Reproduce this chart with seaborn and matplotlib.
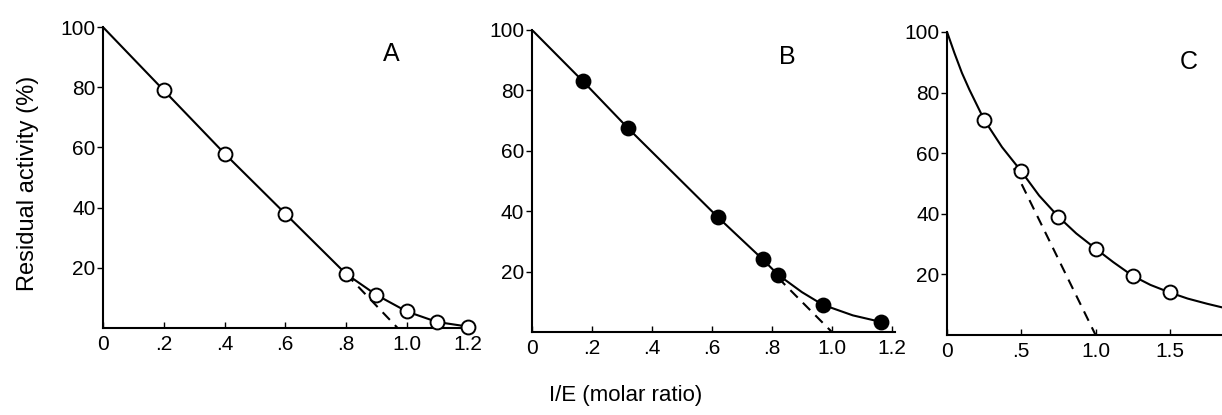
import numpy as np
import pandas as pd
import matplotlib
matplotlib.use('Agg')
import matplotlib.pyplot as plt
import seaborn as sns

# Panel A - open circles
a_x = [0.2, 0.4, 0.6, 0.8, 0.9, 1.0, 1.1, 1.2]
a_y = [79, 58, 38, 18, 11, 5.5, 2, 0.5]
a_line_x = [0, 0.2, 0.4, 0.6, 0.8, 0.9, 1.0, 1.1, 1.2]
a_line_y = [100, 79, 58, 38, 18, 11, 5.5, 2, 0.5]
a_dash_x = [0.8, 0.97]
a_dash_y = [18, 0]

# Panel B - filled circles
b_x = [0.17, 0.32, 0.62, 0.77, 0.82, 0.97, 1.165]
b_y = [83, 67.5, 38, 24, 19, 9, 3.3]
b_line_x = [0, 0.17, 0.32, 0.62, 0.77, 0.82, 0.9, 0.97, 1.07, 1.165]
b_line_y = [100, 83, 67.5, 38, 24, 19, 13.2, 9, 5.5, 3.3]
b_dash_x = [0.82, 1.0]
b_dash_y = [18, 0]

# Panel C - open circles, curved fit
c_x = [0.25, 0.5, 0.75, 1.0, 1.25, 1.5]
c_y = [71, 54, 39, 28.5, 19.5, 14]
c_curve_x = [0, 0.05, 0.1, 0.15, 0.25, 0.37, 0.5, 0.62, 0.75, 0.87, 1.0, 1.12, 1.25, 1.37, 1.5, 1.62, 1.75, 1.86]
c_curve_y = [100, 93, 86.5, 81, 71, 62, 54, 46, 39, 33.5, 28.5, 24, 19.5, 16.5, 14, 12, 10.3, 9]
c_dash_x = [0.45, 1.0]
c_dash_y = [55, 0]

sns.set_style('white')
plt.rcParams['font.family'] = ['Liberation Sans', 'DejaVu Sans']
plt.rcParams['text.color'] = 'black'
plt.rcParams['xtick.color'] = 'black'
plt.rcParams['ytick.color'] = 'black'

fig = plt.figure(figsize=(12.22, 4.15), dpi=100)
axA = fig.add_axes([0.0843, 0.2096, 0.302, 0.725])
axB = fig.add_axes([0.4353, 0.200, 0.297, 0.728])
axC = fig.add_axes([0.775, 0.193, 0.226, 0.730])

lw = 1.5


def draw_panel(ax, lx, ly, px, py, dx, dy, face, xlim, xticks, xlabels, letter, lpos):
    sns.lineplot(x=lx, y=ly, ax=ax, color='black', lw=lw, sort=False, estimator=None)
    sns.lineplot(x=dx, y=dy, ax=ax, color='black', lw=lw, estimator=None)
    ax.lines[-1].set_dashes([5, 3.5])
    ax.plot(px, py, 'o', ms=10, mfc=face, mec='black', mew=1.4, clip_on=False, zorder=5)
    ax.set_xlim(*xlim)
    ax.set_ylim(0, 100)
    ax.set_xticks(xticks)
    ax.set_xticklabels(xlabels)
    ax.set_yticks([20, 40, 60, 80, 100])
    ax.set_yticklabels(['20', '40', '60', '80', '100'])
    ax.tick_params(axis='x', bottom=True, direction='in', length=4, width=1, labelsize=15, pad=5)
    ax.tick_params(axis='y', left=True, direction='out', length=4, width=1, labelsize=15, pad=1.5)
    sns.despine(ax=ax)
    for s in ['left', 'bottom']:
        ax.spines[s].set_linewidth(1.5)
        ax.spines[s].set_color('black')
    ax.text(lpos[0], lpos[1], letter, fontsize=18, ha='center', va='center')


draw_panel(axA, a_line_x, a_line_y, a_x, a_y, a_dash_x, a_dash_y, 'white',
           (0, 1.215), [0, 0.2, 0.4, 0.6, 0.8, 1.0, 1.2],
           ['0', '.2', '.4', '.6', '.8', '1.0', '1.2'], 'A', (0.95, 91))
draw_panel(axB, b_line_x, b_line_y, b_x, b_y, b_dash_x, b_dash_y, 'black',
           (0, 1.21), [0, 0.2, 0.4, 0.6, 0.8, 1.0, 1.2],
           ['0', '.2', '.4', '.6', '.8', '1.0', '1.2'], 'B', (0.85, 91))
draw_panel(axC, c_curve_x, c_curve_y, c_x, c_y, c_dash_x, c_dash_y, 'white',
           (0, 1.86), [0, 0.5, 1.0, 1.5],
           ['0', '.5', '1.0', '1.5'], 'C', (1.63, 90))

for ax in [axA, axB, axC]:
    ax.set_xlabel('')
    ax.set_ylabel('')

fig.text(0.023, 0.557, 'Residual activity (%)', rotation=90, fontsize=17, ha='center', va='center')
fig.text(0.512, 0.048, 'I/E (molar ratio)', fontsize=16, ha='center', va='center')

fig.savefig('out.png', dpi=100)
